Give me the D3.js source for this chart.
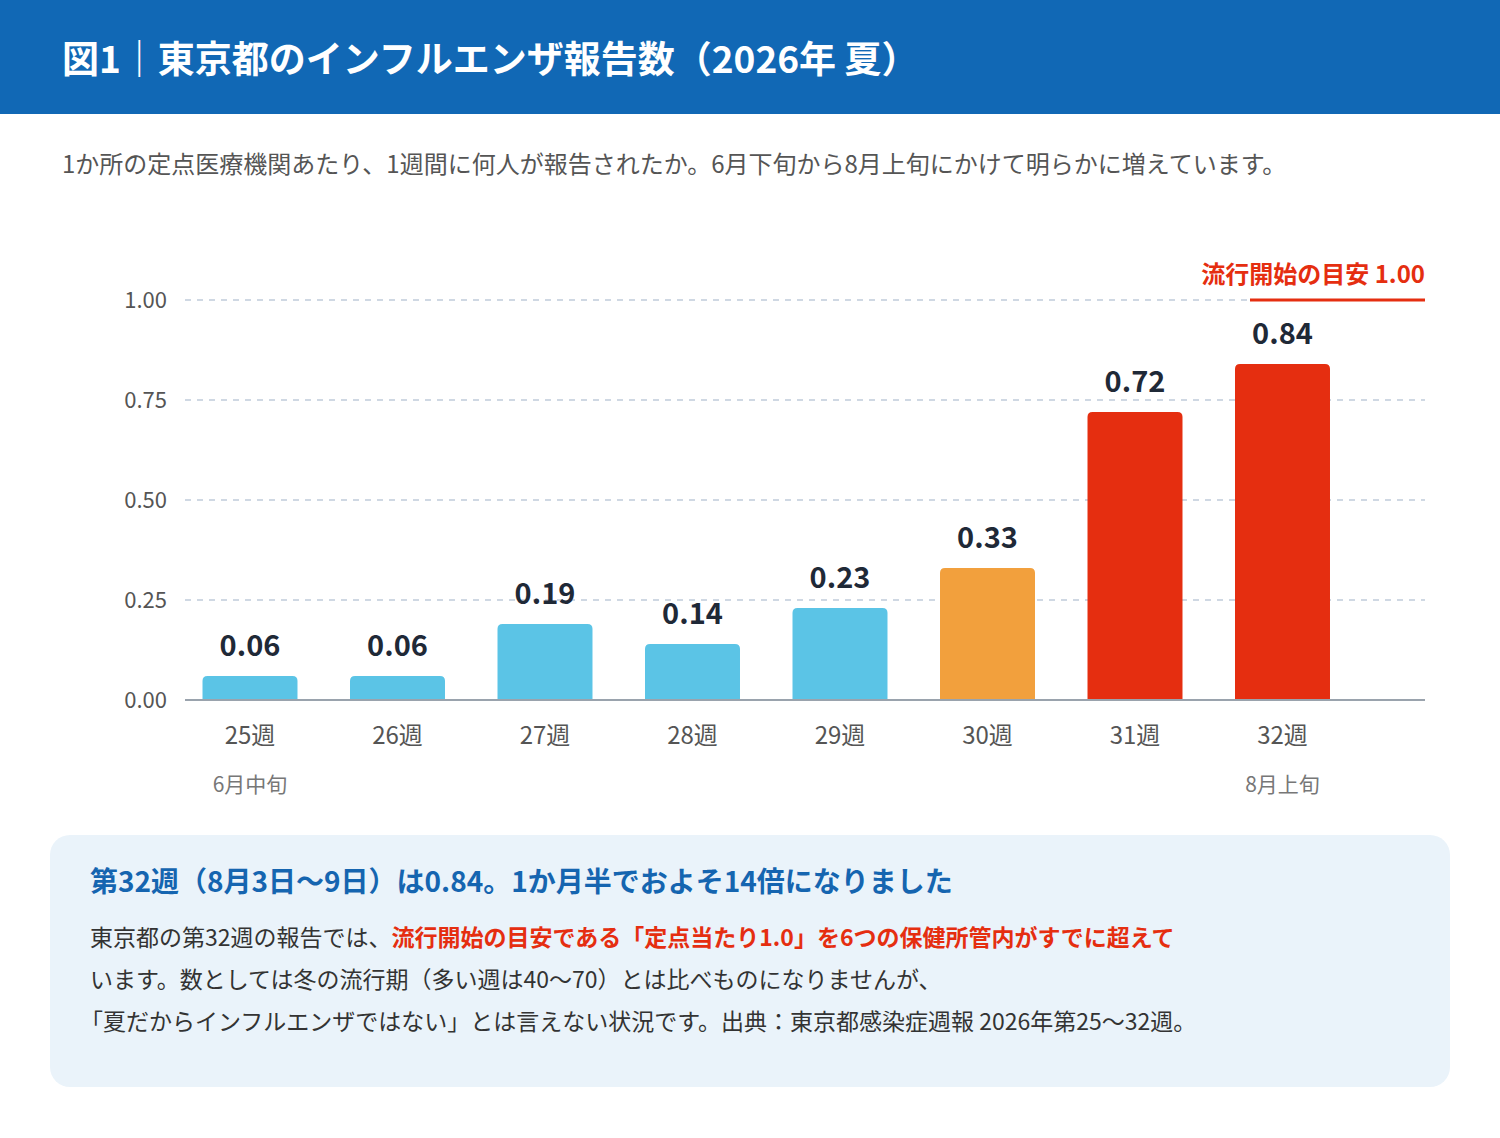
<!DOCTYPE html>
<html><head><meta charset="utf-8">
<script src="https://cdn.jsdelivr.net/npm/d3@7/dist/d3.min.js"></script>
<style>body{margin:0;background:#fff}svg{display:block;font-family:"Noto Sans CJK JP","Noto Sans",sans-serif}</style>
</head><body><svg id="c" width="1500" height="1138"></svg>
<script>
const weeks=["25週","26週","27週","28週","29週","30週","31週","32週"];
const values=[0.06,0.06,0.19,0.14,0.23,0.33,0.72,0.84];
const levels=["low","low","low","low","low","mid","high","high"];
const subLabels={"25週":"6月中旬","32週":"8月上旬"};
const yTicks=[0,0.25,0.5,0.75,1.0];
const threshold=1.0;
const colors={low:"#5bc4e6",mid:"#f2a03d",high:"#e52e10"};

const svg=d3.select("#c");
svg.append("rect").attr("width",1500).attr("height",114).attr("fill","#1168b5");
svg.append("text").attr("x",62).attr("y",73).attr("fill","#fff").attr("font-size",37).attr("font-weight",700)
 .text("図1｜東京都のインフルエンザ報告数（2026年 夏）");
svg.append("text").attr("x",62).attr("y",173).attr("fill","#555").attr("font-size",24)
 .text("1か所の定点医療機関あたり、1週間に何人が報告されたか。6月下旬から8月上旬にかけて明らかに増えています。");

const x=d3.scaleBand().domain(weeks).range([176.25,1356.25]).paddingInner(0.356).paddingOuter(0.178);
const y=d3.scaleLinear().domain([0,1]).range([700,300]);
const g=svg.append("g");
yTicks.forEach(t=>{
  if(t>0) g.append("line").attr("x1",185).attr("x2",1425).attr("y1",y(t)).attr("y2",y(t))
    .attr("stroke","#cfd8e3").attr("stroke-width",2).attr("stroke-dasharray","6,6");
  g.append("text").attr("x",167).attr("y",y(t)+8).attr("text-anchor","end").attr("fill","#555").attr("font-size",22).text(t.toFixed(2));
});
weeks.forEach((w,i)=>{
  const h=700-y(values[i]);
  g.append("path").attr("fill",colors[levels[i]]).attr("d",(()=>{
    const x0=x(w),x1=x0+x.bandwidth(),y0=y(values[i]),r=Math.min(5,h);
    return `M${x0},700V${y0+r}Q${x0},${y0} ${x0+r},${y0}H${x1-r}Q${x1},${y0} ${x1},${y0+r}V700Z`;})());
  const cx=x(w)+x.bandwidth()/2;
  g.append("text").attr("x",cx).attr("y",y(values[i])-20).attr("text-anchor","middle").attr("fill","#1f2937")
    .attr("font-size",29).attr("font-weight",700).text(values[i].toFixed(2));
  g.append("text").attr("x",cx).attr("y",744).attr("text-anchor","middle").attr("fill","#555").attr("font-size",24).text(w);
  if(subLabels[w]) g.append("text").attr("x",cx).attr("y",792).attr("text-anchor","middle").attr("fill","#777").attr("font-size",21).text(subLabels[w]);
});
g.append("line").attr("x1",185).attr("x2",1425).attr("y1",700).attr("y2",700).attr("stroke","#9aa3ad").attr("stroke-width",2);
g.append("line").attr("x1",1250).attr("x2",1425).attr("y1",y(threshold)).attr("y2",y(threshold)).attr("stroke","#e52e10").attr("stroke-width",3);
g.append("text").attr("x",1425).attr("y",y(threshold)-17).attr("text-anchor","end").attr("fill","#e52e10").attr("font-size",24).attr("font-weight",700)
 .text("流行開始の目安 1.00");

svg.append("rect").attr("x",50).attr("y",835).attr("width",1400).attr("height",252).attr("rx",20).attr("fill","#eaf3fa");
svg.append("text").attr("x",90).attr("y",892).attr("fill","#1565b0").attr("font-size",28).attr("font-weight",700)
 .text("第32週（8月3日〜9日）は0.84。1か月半でおよそ14倍になりました");
const t1=svg.append("text").attr("x",90).attr("y",946).attr("font-size",23).attr("fill","#333");
t1.append("tspan").text("東京都の第32週の報告では、");
t1.append("tspan").attr("fill","#e52e10").attr("font-weight",700).text("流行開始の目安である「定点当たり1.0」を6つの保健所管内がすでに超えて");
svg.append("text").attr("x",90).attr("y",988).attr("font-size",23).attr("fill","#333").text("います。数としては冬の流行期（多い週は40〜70）とは比べものになりませんが、");
svg.append("text").attr("x",80).attr("y",1030).attr("font-size",23).attr("fill","#333").text("「夏だからインフルエンザではない」とは言えない状況です。出典：東京都感染症週報 2026年第25〜32週。");
</script></body></html>
